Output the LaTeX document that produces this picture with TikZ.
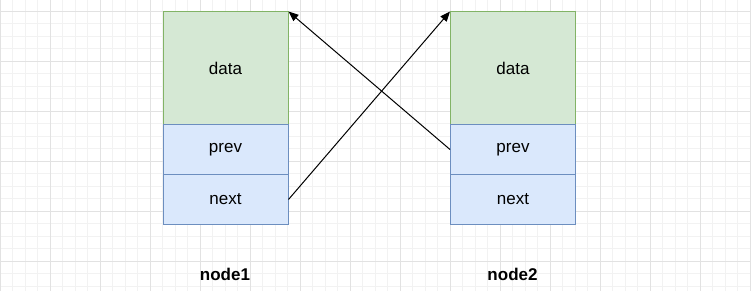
\documentclass[tikz,border=0pt]{standalone}
\usepackage{fontspec}
\setmainfont{Liberation Sans}
\usetikzlibrary{arrows.meta}
\definecolor{gfill}{HTML}{D5E8D4}
\definecolor{gstroke}{HTML}{82B366}
\definecolor{bfill}{HTML}{DAE8FC}
\definecolor{bstroke}{HTML}{6C8EBF}
\definecolor{gridminor}{HTML}{F2F2F2}
\definecolor{gridmajor}{HTML}{E2E2E2}
\begin{document}
\begin{tikzpicture}[x=1pt,y=-1pt,
  cell/.style={draw, line width=1pt, minimum width=125pt, inner sep=0pt, anchor=north west, font=\fontsize{17}{20}\selectfont},
  datacell/.style={cell, fill=gfill, draw=gstroke, minimum height=112.5pt},
  ptrcell/.style={cell, fill=bfill, draw=bstroke, minimum height=50pt},
  lbl/.style={font=\fontsize{17}{20}\selectfont\bfseries},
  link/.style={line width=1pt, -{Stealth[length=10pt,width=8pt,inset=0pt]}}]
\useasboundingbox (0,0) rectangle (751,291);
\fill[white] (0,0) rectangle (751,291);
% grid
\foreach \x in {0,12.5,...,751} {\draw[gridminor, line width=0.8pt] (\x,0) -- (\x,291);}
\foreach \y in {-1.5,11,...,291} {\draw[gridminor, line width=0.8pt] (0,\y) -- (751,\y);}
\foreach \x in {0,50,...,751} {\draw[gridmajor, line width=0.8pt] (\x,0) -- (\x,291);}
\foreach \y in {11,61,...,291} {\draw[gridmajor, line width=0.8pt] (0,\y) -- (751,\y);}
% node1
\node[datacell] (d1) at (162.5,11.5) {data};
\node[ptrcell] (p1) at (162.5,124) {prev};
\node[ptrcell] (n1) at (162.5,174) {next};
% node2
\node[datacell] (d2) at (450,11.5) {data};
\node[ptrcell] (p2) at (450,124) {prev};
\node[ptrcell] (n2) at (450,174) {next};
% labels
\node[lbl] (l1) at (225,274) {node1};
\node[lbl] (l2) at (512.5,274) {node2};
% links
\draw[link] (n1.east) -- (d2.north west);
\draw[link] (p2.west) -- (d1.north east);
\end{tikzpicture}
\end{document}
